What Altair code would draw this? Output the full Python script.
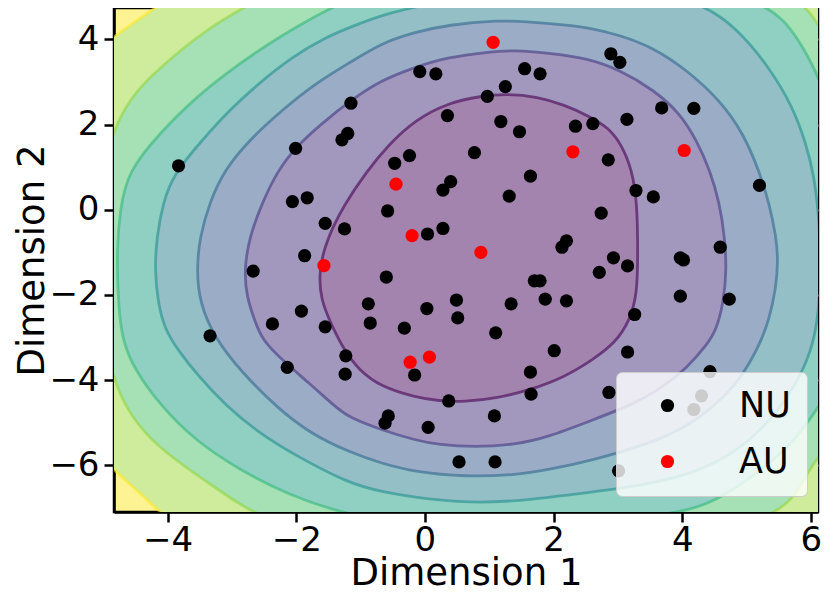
import altair as alt
import pandas as pd

# ---------------- scatter data ----------------
nu_x = [0.17, -0.08, 1.55, 1.79, 2.89, 3.03, 1.25, 0.97, -1.15, 0.35,
        1.18, 1.47, 3.68, 4.18, 2.34, 2.61, 3.14, -1.20, -1.29, -2.01,
        0.77, -0.24, -0.47, 2.85, -3.83, 1.64, 0.40, 0.28, 1.31, 3.28,
        3.55, 5.20, -1.83, -2.06, -0.58, 2.74, -1.55, -1.25, 0.28, 0.04,
        2.20, 2.13, 4.59, -1.87, 2.93, 3.97, 4.02, 3.15, -2.67, -0.60,
        2.71, 1.70, 1.79, -0.88, 0.03, 0.49, 1.34, 1.87, 2.20, 3.97,
        4.73, -1.92, -1.55, -0.85, 0.51, -2.37, -0.32, 1.10, 3.26, -3.34,
        2.01, 3.15, -1.23, -1.24, -0.16, 1.64, -2.14, 4.43, 1.65, 0.37,
        2.86, -0.57, -0.62, 1.08, 0.05, 0.53, 1.09, 4.30, 4.18, 3.01]
nu_y = [3.19, 3.24, 3.31, 3.19, 3.66, 3.46, 2.89, 2.66, 2.50, 2.21,
        2.07, 1.83, 2.39, 2.38, 1.96, 2.02, 2.12, 1.79, 1.64, 1.44,
        1.34, 1.27, 1.09, 1.17, 1.03, 0.79, 0.66, 0.46, 0.32, 0.45,
        0.30, 0.57, 0.28, 0.19, -0.03, -0.08, -0.32, -0.45, -0.44, -0.57,
        -0.73, -0.88, -0.88, -1.08, -1.13, -1.13, -1.18, -1.32, -1.44, -1.58,
        -1.47, -1.67, -1.67, -2.21, -2.32, -2.12, -2.21, -2.10, -2.14, -2.03,
        -2.10, -2.38, -2.75, -2.66, -2.54, -2.68, -2.78, -2.89, -2.46, -2.96,
        -3.31, -3.34, -3.43, -3.86, -3.88, -3.81, -3.70, -3.80, -4.33, -4.49,
        -4.29, -4.84, -5.01, -4.84, -5.11, -5.92, -5.92, -4.37, -4.69, -6.13]

au_x = [1.06, 2.30, 4.03, -0.45, -0.20, 0.87, -1.57, -0.23, 0.07]
au_y = [3.93, 1.36, 1.39, 0.60, -0.61, -1.00, -1.31, -3.58, -3.46]

groups = ["NU", "AU"]

# ---------------- contour boundaries ----------------
c1_x = [1.29, 1.75, 2.17, 2.55, 2.86, 3.06, 3.22, 3.30, 3.31, 3.30,
        3.19, 2.96, 2.60, 2.17, 1.64, 1.13, 0.62, 0.21, -0.15, -0.68,
        -1.03, -1.26, -1.45, -1.62, -1.65, -1.53, -1.26, -0.91, -0.57, -0.15,
        0.36, 0.87]
c1_y = [2.72, 2.65, 2.46, 2.20, 1.92, 1.52, 0.93, 0.16, -1.02, -1.96,
        -2.59, -3.13, -3.53, -3.93, -4.23, -4.42, -4.51, -4.49, -4.40, -4.16,
        -3.76, -3.29, -2.71, -2.12, -1.42, -0.71, 0.11, 0.89, 1.52, 2.11,
        2.51, 2.67]

c2_x = [-1.15, -0.68, -0.15, 0.36, 0.98, 1.40, 1.91, 2.52, 3.03, 3.56,
        3.96, 4.22, 4.43, 4.58, 4.66, 4.69, 4.64, 4.53, 4.38, 4.07,
        3.68, 3.22, 2.60, 1.91, 1.40, 0.78, 0.21, -0.15, -0.68, -1.19,
        -1.39, -1.80, -2.22, -2.53, -2.65, -2.77, -2.81, -2.73, -2.53, -2.30,
        -2.01, -1.60]
c2_y = [2.57, 3.04, 3.35, 3.58, 3.70, 3.75, 3.68, 3.56, 3.28, 2.81,
        2.27, 1.64, 0.93, 0.16, -0.64, -1.42, -2.19, -2.82, -3.18, -3.72,
        -4.19, -4.58, -4.94, -5.34, -5.52, -5.57, -5.52, -5.41, -5.17, -4.87,
        -4.63, -4.07, -3.53, -3.06, -2.59, -2.05, -1.42, -0.64, 0.16, 0.89,
        1.47, 2.03]

c3_x = [-3.12, -2.73, -2.22, -1.70, -1.15, -0.68, -0.15, 0.36, 1.13, 1.64,
        2.17, 2.57, 3.03, 3.56, 4.07, 4.58, 4.95, 5.20, 5.35, 5.46,
        5.49, 5.46, 5.35, 5.20, 4.92, 4.53, 4.07, 3.45, 2.60, 1.91,
        1.40, 0.62, -0.15, -0.68, -1.15, -1.80, -2.31, -2.84, -3.27, -3.50,
        -3.55, -3.50, -3.35]
c3_y = [0.93, 1.64, 2.34, 2.97, 3.47, 3.91, 4.17, 4.34, 4.45, 4.41,
        4.34, 4.27, 4.10, 3.80, 3.28, 2.58, 1.80, 0.89, 0.16, -0.64,
        -1.18, -1.82, -2.59, -3.18, -3.95, -4.58, -5.10, -5.52, -5.88, -6.11,
        -6.23, -6.27, -6.16, -5.95, -5.71, -5.24, -4.63, -3.83, -3.01, -2.19,
        -1.42, -0.64, 0.16]

c4_x = [-3.92, -3.46, -3.04, -2.58, -2.07, -1.54, -1.15, -0.67, -0.15, 0.21,
        0.98, 2.06, 3.30, 4.23, 4.84, 5.35, 5.72, 5.92, 6.05, 6.13,
        6.16, 6.11, 6.00, 5.77, 5.38, 4.84, 4.23, 3.45, 2.60, 1.64,
        0.87, 0.10, -0.67, -1.19, -2.00, -2.58, -3.09, -3.55, -3.84, -4.04,
        -4.15, -4.20, -4.17, -4.07]
c4_y = [0.81, 1.64, 2.34, 2.97, 3.58, 4.05, 4.29, 4.57, 4.76, 4.88,
        5.11, 5.20, 5.11, 4.92, 4.29, 3.35, 2.41, 1.57, 0.81, -0.24,
        -1.42, -2.59, -3.34, -4.11, -4.94, -5.69, -6.16, -6.46, -6.63, -6.81,
        -6.89, -6.81, -6.63, -6.42, -5.78, -5.24, -4.61, -3.86, -3.29, -2.82,
        -2.19, -1.42, -0.64, 0.16]

c5_x = [-4.77, -4.79, -4.74, -4.62, -4.12, -3.61, -3.08, -2.58, -2.00, -1.34,
        -0.41, 0.98, 2.37, 3.92, 5.35, 5.82, 6.13, 6.54, 6.73, 6.67,
        6.39, 6.13, 5.77, 5.15, 4.53, 4.07, 2.68, 0.98, -0.41, -1.34,
        -2.11, -2.88, -3.58, -4.12, -4.51, -4.71]
c5_y = [-2.12, -0.95, -0.01, 0.89, 1.80, 2.57, 3.21, 3.75, 4.29, 4.85,
        5.39, 5.67, 5.63, 5.27, 4.92, 3.98, 3.12, 1.40, -0.95, -2.82,
        -4.00, -4.59, -5.41, -6.23, -6.82, -7.10, -7.33, -7.50, -7.38, -7.10,
        -6.70, -6.11, -5.41, -4.58, -3.76, -3.06]

c6_x = [-4.79, -4.12, -3.35, -2.62, -1.49, 0.98, 3.45, 5.15, 5.85, 6.13,
        6.70, 7.16, 7.32, 7.08, 6.54, 6.13, 5.85, 5.57, 4.23, 2.37,
        0.98, -0.41, -1.96, -2.73, -3.35, -4.12, -4.79, -5.13, -5.13]
c6_y = [2.34, 3.35, 4.29, 4.92, 5.75, 6.33, 5.98, 5.39, 4.92, 4.34,
        2.81, 0.23, -2.12, -4.23, -5.17, -5.71, -6.46, -7.12, -7.75, -8.06,
        -8.18, -8.06, -7.52, -7.10, -6.42, -5.64, -4.54, -2.12, 0.23]

c7_x = [-5.67, -5.20, -4.86, -4.43, -4.01, -3.50, -2.73, 0.98, 5.00, 7.01,
        8.09, 7.62, 6.13, 4.23, 0.98, -2.73, -3.66, -4.12, -4.43, -4.79,
        -5.20, -5.67, -6.13, -6.36, -6.13]
c7_y = [3.04, 3.63, 4.03, 4.50, 4.92, 5.51, 6.33, 7.27, 6.80, 4.92,
        -0.95, -6.81, -8.22, -9.16, -9.63, -8.69, -7.64, -7.10, -6.65, -6.18,
        -5.52, -4.70, -3.06, -0.95, 1.40]

x_ticks = [-4, -2, 0, 2, 4, 6]
y_ticks = [-6, -4, -2, 0, 2, 4]

# ---------------- styles ----------------
contours = [(c7_x, c7_y), (c6_x, c6_y), (c5_x, c5_y), (c4_x, c4_y),
            (c3_x, c3_y), (c2_x, c2_y), (c1_x, c1_y)]
band_fill = ["#cfec9c", "#a6e0b5", "#90d0c3", "#94bfc6", "#9badc6", "#a298be", "#a384ae"]
line_col = ["#fde725", "#91d641", "#35b779", "#22908c", "#31688e", "#433880", "#440154"]
outer_fill = "#fef392"

X_DOMAIN = [-4.833, 6.11]
Y_DOMAIN = [-7.096, 4.735]
FONT = "DejaVu Sans"

x_enc = alt.X("x:Q",
              scale=alt.Scale(domain=X_DOMAIN, nice=False, zero=False),
              axis=alt.Axis(values=x_ticks, title="Dimension 1", labelPadding=1,
                            titleY=72, titleBaseline="alphabetic", labelFlush=False))
y_enc = alt.Y("y:Q",
              scale=alt.Scale(domain=Y_DOMAIN, nice=False, zero=False),
              axis=alt.Axis(values=y_ticks, title="Dimension 2", labelPadding=5,
                            titleX=-71, titleBaseline="alphabetic", labelFlush=False))

layers = []
for k, (cx, cy) in enumerate(contours):
    df = pd.DataFrame({"x": cx, "y": cy, "i": list(range(len(cx)))})
    layers.append(
        alt.Chart(df).mark_line(
            interpolate="basis-closed", fill=band_fill[k], stroke=line_col[k],
            strokeWidth=2.8, strokeOpacity=0.6, clip=True
        ).encode(x=x_enc, y=y_enc, order=alt.Order("i:Q"))
    )

pts = pd.DataFrame({
    "x": nu_x + au_x,
    "y": nu_y + au_y,
    "group": [groups[0]] * len(nu_x) + [groups[1]] * len(au_x),
})

points = alt.Chart(pts).mark_circle(size=175, opacity=1).encode(
    x=x_enc, y=y_enc,
    color=alt.Color("group:N",
                    scale=alt.Scale(domain=groups, range=["#000000", "#ff0000"]),
                    legend=alt.Legend(title=None, orient="none", legendX=502, legendY=364,
                                      fillColor="rgba(255,255,255,0.8)", strokeColor="#cccccc",
                                      cornerRadius=6, padding=16, symbolOffset=18,
                                      labelOffset=54, rowPadding=20, labelFontSize=35,
                                      labelFont=FONT, labelColor="black", symbolSize=175,
                                      symbolType="circle", symbolStrokeWidth=0, zindex=2)),
)

chart = alt.layer(*layers, points).properties(
    width=704, height=504,
    autosize=alt.AutoSizeParams(type="none"),
    padding={"left": 106, "top": 0, "right": 4, "bottom": 81},
).configure_view(
    stroke="black", strokeWidth=2.5, fill=outer_fill
).configure_axis(
    domainColor="black", domainWidth=2.5, tickColor="black", tickWidth=2.5, tickSize=10,
    labelFont=FONT, labelFontSize=34, labelColor="black",
    titleFont=FONT, titleFontSize=37, titleFontWeight="normal", titleColor="black",
    gridColor="#b0b0b0", gridWidth=2, gridOpacity=0.9, zindex=1,
)

chart.save("out.html", embed_options={"renderer": "svg", "actions": False})
